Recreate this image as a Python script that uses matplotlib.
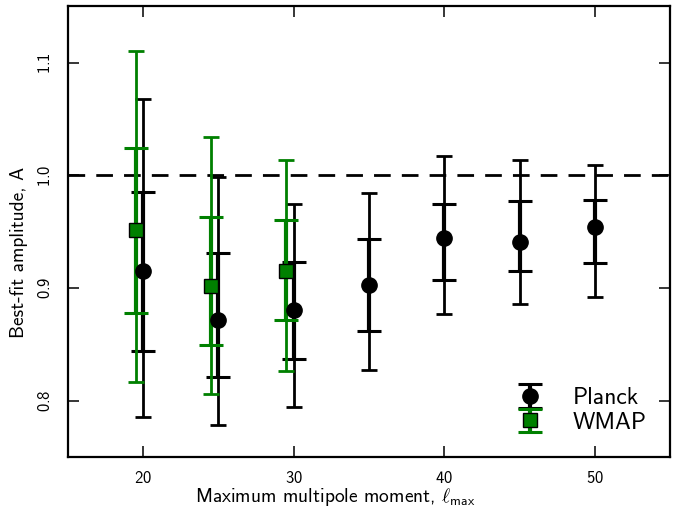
import numpy as np
import matplotlib
matplotlib.use("Agg")
import matplotlib.pyplot as plt

plt.rcParams['font.family'] = ['cmss10', 'DejaVu Sans']
plt.rcParams['mathtext.fontset'] = 'cm'
plt.rcParams['axes.formatter.use_mathtext'] = True

# Planck results
planck_l = [20, 25, 30, 35, 40, 45, 50]
planck_A = [0.915, 0.872, 0.8805, 0.9026, 0.9444, 0.9405, 0.9538]
planck_in_lo = [0.844, 0.821, 0.8375, 0.862, 0.9074, 0.9156, 0.9227]
planck_in_hi = [0.985, 0.931, 0.923, 0.9435, 0.9745, 0.9769, 0.9784]
planck_out_lo = [0.7855, 0.7787, 0.795, 0.8275, 0.8772, 0.8858, 0.892]
planck_out_hi = [1.0674, 0.9986, 0.9745, 0.9846, 1.0168, 1.0132, 1.0088]

# WMAP results (offset in l for clarity)
wmap_l = [19.5, 24.5, 29.5]
wmap_A = [0.9511, 0.9023, 0.9156]
wmap_in_lo = [0.8778, 0.8497, 0.8713]
wmap_in_hi = [1.0245, 0.9632, 0.96]
wmap_out_lo = [0.8171, 0.806, 0.8269]
wmap_out_hi = [1.11, 1.034, 1.0132]


def draw(ax, l, A, in_lo, in_hi, out_lo, out_hi, color, marker, ms, label):
    A = np.array(A)
    err_out = [A - np.array(out_lo), np.array(out_hi) - A]
    err_in = [A - np.array(in_lo), np.array(in_hi) - A]
    ax.errorbar(l, A, yerr=err_out, fmt='none', ecolor=color, elinewidth=2,
                capsize=5.5, capthick=2)
    cont = ax.errorbar(l, A, yerr=err_in, fmt=marker, color=color, mec='black',
                       ms=ms, ecolor=color, elinewidth=3, capsize=8.5, capthick=2.2,
                       label=label)
    # capthick also sets the marker edge, so put the marker edge back
    cont.lines[0].set_markeredgewidth(1)


fig = plt.figure(figsize=(6.86, 5.13), dpi=100)
ax = fig.add_axes([0.0991, 0.1086, 0.8776, 0.8794])

ax.axhline(1.0, color='black', ls='--', lw=2, dashes=(6, 4))
draw(ax, planck_l, planck_A, planck_in_lo, planck_in_hi, planck_out_lo, planck_out_hi,
     'black', 'o', 11, 'Planck')
draw(ax, wmap_l, wmap_A, wmap_in_lo, wmap_in_hi, wmap_out_lo, wmap_out_hi,
     'green', 's', 10, 'WMAP')

ax.set_xlim(15, 55)
ax.set_ylim(0.75, 1.15)
ax.set_xticks([20, 30, 40, 50])
ax.set_yticks([0.8, 0.9, 1.0, 1.1])
ax.tick_params(direction='in', length=8, width=1.1, top=True, right=True, labelsize=12)
ax.tick_params(axis='x', pad=9)
ax.tick_params(axis='y', pad=11, labelrotation=90)
for t in ax.get_yticklabels():
    t.set_va('center')
for s in ax.spines.values():
    s.set_linewidth(1.6)

ax.set_xlabel(r'Maximum multipole moment, $\ell_{\mathsf{max}}$', fontsize=14)
ax.set_ylabel('Best-fit amplitude, A', fontsize=14)
ax.xaxis.set_label_coords(0.444, -0.064)
ax.yaxis.set_label_coords(-0.066, 0.453)

ax.legend(loc='lower right', frameon=False, numpoints=1, fontsize=17,
          handlelength=1.2, handletextpad=1.2, labelspacing=0.1,
          borderaxespad=0.6)

fig.savefig('out.png', dpi=100)
